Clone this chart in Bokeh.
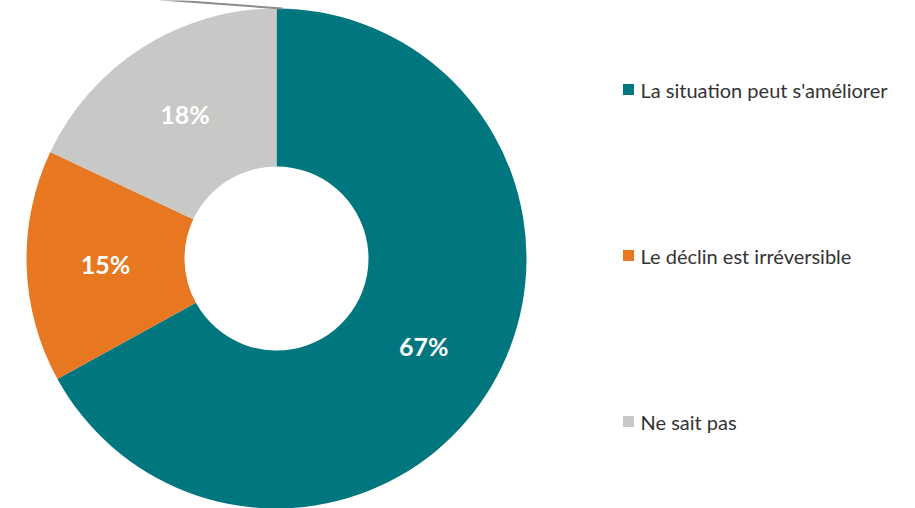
import numpy as np
from bokeh.plotting import figure
from bokeh.models import ColumnDataSource, Range1d
from bokeh.core.properties import value
from bokeh.embed import file_html
from bokeh.resources import INLINE

categories = ["La situation peut s'améliorer", "Le déclin est irréversible", "Ne sait pas"]
shares = [67, 15, 18]
colors = ["#00767F", "#E87722", "#C8C8C6"]

W, H = 915, 508
cx, cy = 276, H - 258
R_out, R_in = 250, 92

p = figure(width=W, height=H, output_backend="svg", toolbar_location=None,
           x_range=Range1d(0, W), y_range=Range1d(0, H), min_border=0)
p.axis.visible = False
p.grid.visible = False
p.outline_line_color = None
p.background_fill_color = "white"

fr = np.array(shares) / sum(shares)
ends_cum = np.cumsum(fr)
starts_cum = ends_cum - fr
# clockwise from top
start_ang = np.pi / 2 - 2 * np.pi * ends_cum
end_ang = np.pi / 2 - 2 * np.pi * starts_cum
mid = (start_ang + end_ang) / 2

src = ColumnDataSource(dict(start=start_ang, end=end_ang, color=colors,
                            cat=categories, share=shares))
p.annular_wedge(x=cx, y=cy, inner_radius=R_in, outer_radius=R_out,
                start_angle="start", end_angle="end", fill_color="color",
                line_color=None, source=src)

# leader line at top
p.segment(x0=[cx + 6], y0=[cy + R_out], x1=[cx - 116], y1=[cy + R_out + 9],
          line_color="#8C8C8C", line_width=2)

r_lab = (R_out + R_in) / 2
lab = ColumnDataSource(dict(x=cx + r_lab * np.cos(mid), y=cy + r_lab * np.sin(mid),
                            t=[f"{s}%" for s in shares]))
p.text(x="x", y="y", text="t", source=lab, text_color="white",
       text_font=value("Lato"), text_font_style="bold", text_font_size="25px",
       text_align="center", text_baseline="middle")

# legend
rows_y = [H - 89, H - 255, H - 421]
leg = ColumnDataSource(dict(y=rows_y, color=colors, cat=categories))
p.rect(x=628, y="y", width=11, height=11, fill_color="color", line_color=None, source=leg)
p.text(x=640, y="y", text="cat", source=leg, text_color="#333333",
       text_font=value("Lato"), text_font_size="20px",
       text_align="left", text_baseline="middle")

open("out.html", "w").write(file_html(p, INLINE))
